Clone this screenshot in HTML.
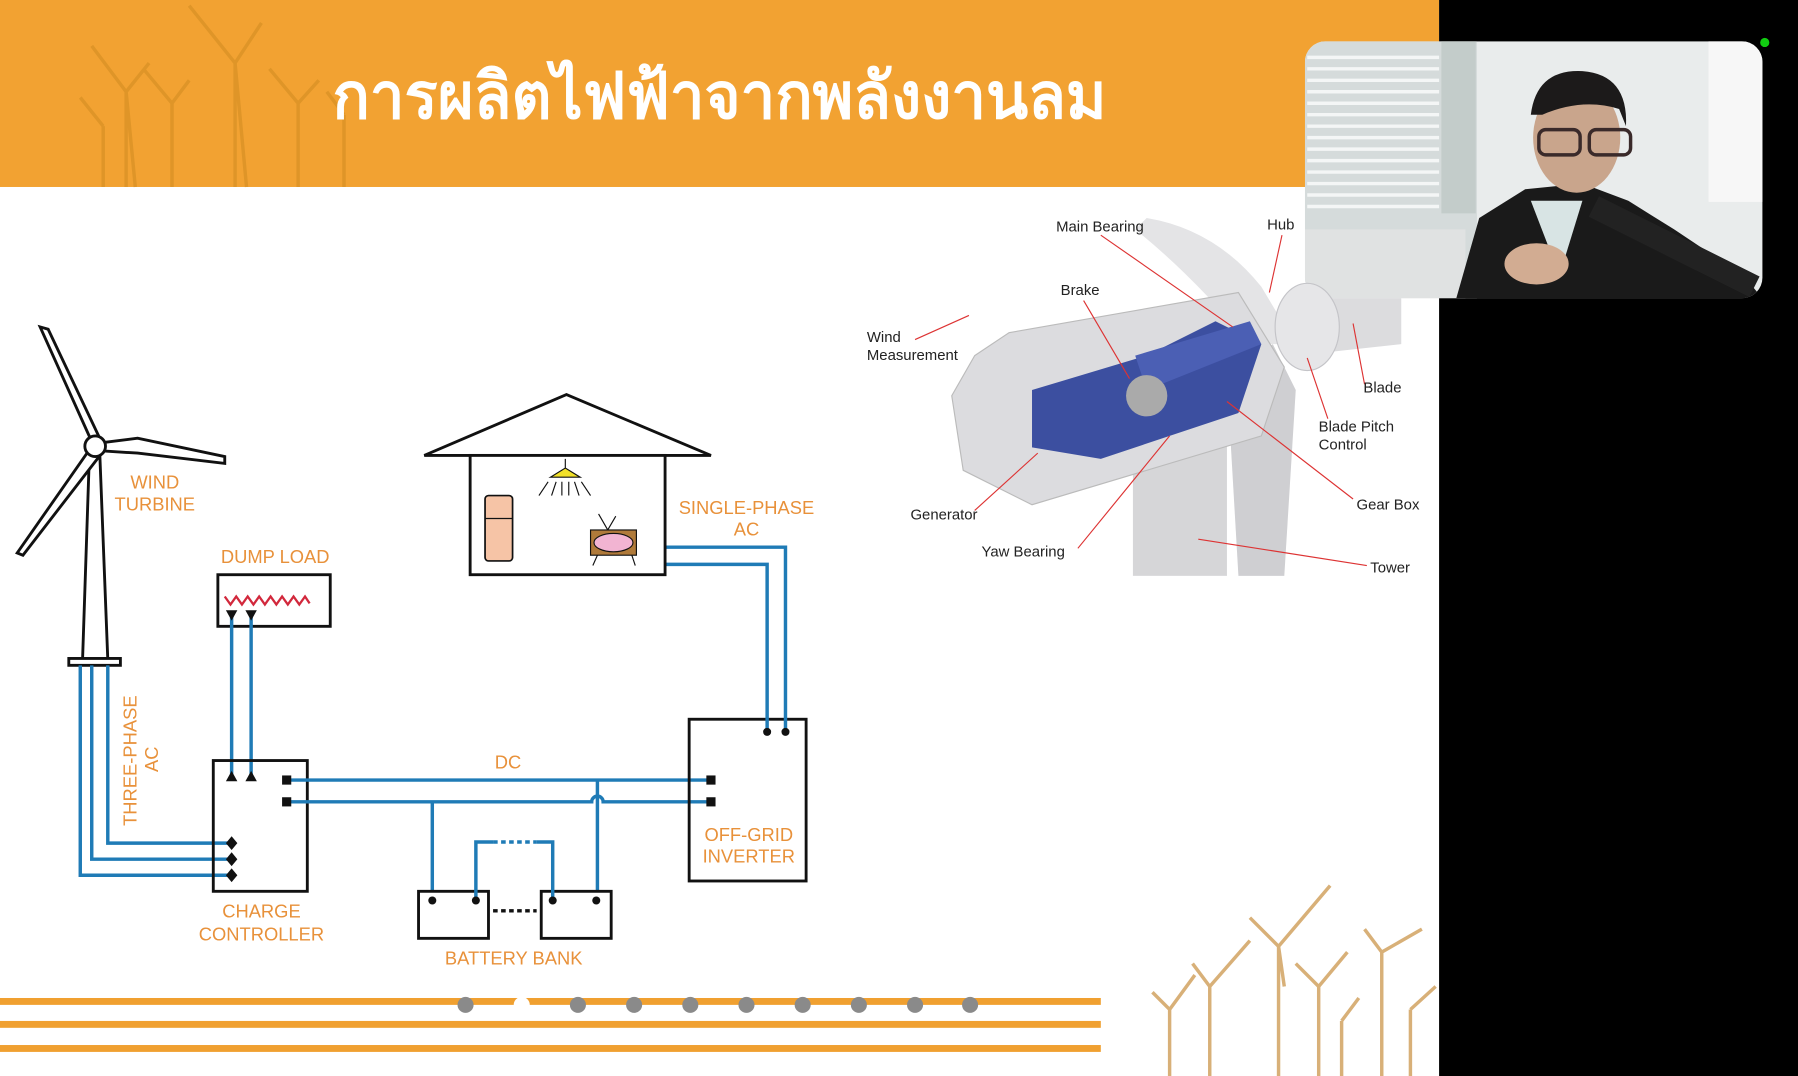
<!DOCTYPE html>
<html><head><meta charset="utf-8"><style>
html,body{margin:0;padding:0;width:1798px;height:1076px;overflow:hidden;background:#fff}
svg{display:block}
.o{fill:#e8913a;font-family:"Liberation Sans",sans-serif;font-size:16px}
.k{fill:#222;font-family:"Liberation Sans",sans-serif;font-size:13px}
.b{stroke:#1f7bb6;stroke-width:3;fill:none}
.r{stroke:#d33;stroke-width:1;fill:none}
</style></head><body>
<svg width="1798" height="1076" viewBox="0 0 1568 938" preserveAspectRatio="none">
<rect width="1568" height="938" fill="#fff"/>
<!-- header -->
<rect x="0" y="0" width="1255" height="163" fill="#f2a232"/>
<g stroke="#dd9428" stroke-width="3" fill="none" opacity="0.9">
<path d="M110 163V80M110 80L80 40M110 80L130 55M110 80L118 163"/>
<path d="M205 163V55M205 55L165 5M205 55L228 20M205 55L215 163"/>
<path d="M150 163V90M150 90L125 60M150 90L165 70"/>
<path d="M260 163V90M260 90L235 60M260 90L278 70"/>
<path d="M300 163V100M300 100L285 80"/>
<path d="M90 163V110M90 110L70 85"/>
</g>
<text x="290" y="103" textLength="675" lengthAdjust="spacingAndGlyphs" fill="#fff" font-family="'Liberation Sans',sans-serif" font-size="56" font-weight="bold">การผลิตไฟฟ้าจากพลังงานลม</text>
<!-- right black panel -->
<rect x="1255" y="0" width="313" height="938" fill="#000"/>
<!-- webcam -->
<clipPath id="cam"><rect x="1138" y="36" width="399" height="224" rx="18"/></clipPath>
<g clip-path="url(#cam)">
<rect x="1138" y="36" width="399" height="224" fill="#e9ecec"/>
<rect x="1138" y="36" width="150" height="224" fill="#d5dbdb"/>
<g stroke="#f4f6f6" stroke-width="3">
<path d="M1140 50H1255M1140 60H1255M1140 70H1255M1140 80H1255M1140 90H1255M1140 100H1255M1140 110H1255M1140 120H1255M1140 130H1255M1140 140H1255M1140 150H1255M1140 160H1255M1140 170H1255M1140 180H1255"/>
</g>
<rect x="1257" y="36" width="30" height="150" fill="#c3ccca"/>
<rect x="1490" y="36" width="47" height="140" fill="#f7f7f7"/>
<rect x="1138" y="200" width="140" height="60" fill="#e0e2e2"/>
<path d="M1270 260L1290 190L1330 165L1380 160L1420 175L1460 200L1520 240L1537 260Z" fill="#1a1a1a"/>
<path d="M1335 175L1360 240L1380 175Z" fill="#d8e4e4"/>
<ellipse cx="1375" cy="120" rx="38" ry="48" fill="#c9a58c"/>
<path d="M1335 100Q1340 60 1380 62Q1420 65 1418 110L1412 95Q1380 85 1345 100Z" fill="#1c1a1a"/>
<rect x="1342" y="113" width="36" height="22" rx="6" fill="none" stroke="#3a2a2a" stroke-width="3"/>
<rect x="1386" y="113" width="36" height="22" rx="6" fill="none" stroke="#3a2a2a" stroke-width="3"/>
<path d="M1390 180L1530 250" stroke="#222" stroke-width="20"/>
<ellipse cx="1340" cy="230" rx="28" ry="18" fill="#d2ac92"/>
</g>
<circle cx="1539" cy="37" r="4" fill="#1c1"/>
<!-- nacelle image -->
<g>
<path d="M1000 190Q1060 200 1100 250L1130 300L1090 300Q1040 240 990 200Z" fill="#e4e4e6"/>
<path d="M1120 260L1222 260L1222 300L1130 310Z" fill="#dcdcde"/>
<rect x="988" y="380" width="82" height="122" fill="#d6d6d8"/>
<path d="M1070 330L1110 300L1130 340L1120 502L1080 502Z" fill="#cfcfd2"/>
<ellipse cx="1140" cy="285" rx="28" ry="38" fill="#e6e6e8" stroke="#c4c4c8"/>
<path d="M850 310L880 290L1080 255L1120 320L1100 380L900 440L840 410L830 345Z" fill="#dcdcdf" stroke="#bbb"/>
<path d="M900 340L1000 310L1060 280L1100 300L1080 360L960 400L900 390Z" fill="#3c4fa0"/>
<path d="M990 310L1090 280L1100 300L1000 340Z" fill="#4b5fb4"/>
<circle cx="1000" cy="345" r="18" fill="#aaa"/>
</g>
<g class="r">
<path d="M960 205L1075 285M1118 205L1107 255M945 262L985 330M798 296L845 275M1190 335L1180 282M1158 365L1140 312M850 445L905 395M940 478L1020 380M1180 435L1070 350M1192 493L1045 470"/>
</g>
<text class="k" x="921" y="202">Main Bearing</text>
<text class="k" x="1105" y="200">Hub</text>
<text class="k" x="925" y="257">Brake</text>
<text class="k" x="756" y="298">Wind</text>
<text class="k" x="756" y="314">Measurement</text>
<text class="k" x="1189" y="342">Blade</text>
<text class="k" x="1150" y="376">Blade Pitch</text>
<text class="k" x="1150" y="392">Control</text>
<text class="k" x="794" y="453">Generator</text>
<text class="k" x="1183" y="444">Gear Box</text>
<text class="k" x="856" y="485">Yaw Bearing</text>
<text class="k" x="1195" y="499">Tower</text>
<!-- turbine -->
<g stroke="#111" stroke-width="2.5" fill="#fff">
<path d="M72 575L78 395L87 395L94 575Z"/>
<path d="M80 385L35 285L42 287L86 380Z"/>
<path d="M88 386L120 382L196 398L196 404L120 395L88 393Z"/>
<path d="M78 392L15 482L20 484L88 396Z"/>
<circle cx="83" cy="389" r="9"/>
<rect x="60" y="574" width="45" height="6"/>
</g>
<text class="o" x="135" y="426" text-anchor="middle">WIND</text>
<text class="o" x="135" y="445" text-anchor="middle">TURBINE</text>
<text class="o" transform="translate(119,720) rotate(-90)">THREE-PHASE</text>
<text class="o" transform="translate(138,673) rotate(-90)">AC</text>
<path class="b" d="M70 580V763H200M80 580V749H200M94 580V735H200"/>
<!-- dump load -->
<text class="o" x="240" y="491" text-anchor="middle">DUMP LOAD</text>
<rect x="190" y="501" width="98" height="45" fill="#fff" stroke="#111" stroke-width="2.5"/>
<path d="M196 520l5 7l5-7l5 7l5-7l5 7l5-7l5 7l5-7l5 7l5-7l5 7l5-7l5 7l5-7l4 6" stroke="#d2283c" stroke-width="2" fill="none"/>
<path class="b" d="M202 536V676M219 536V676"/>
<path d="M197 532h10l-5 9zM214 532h10l-5 9zM197 681h10l-5-9zM214 681h10l-5-9z" fill="#111"/>
<!-- charge controller -->
<rect x="186" y="663" width="82" height="114" fill="none" stroke="#111" stroke-width="2.5"/>
<path class="b" d="M250 680H620M250 699H516a5 5 0 0 1 10 0H620M521 680V785M377 699V785"/>
<path d="M202 729l5 6l-5 6l-5-6zM202 743l5 6l-5 6l-5-6zM202 757l5 6l-5 6l-5-6z" fill="#111"/>
<rect x="246" y="676" width="8" height="8" fill="#111"/><rect x="246" y="695" width="8" height="8" fill="#111"/>
<text class="o" x="228" y="800" text-anchor="middle">CHARGE</text>
<text class="o" x="228" y="820" text-anchor="middle">CONTROLLER</text>
<text class="o" x="443" y="670" text-anchor="middle">DC</text>
<!-- batteries -->
<rect x="365" y="777" width="61" height="41" fill="#fff" stroke="#111" stroke-width="2.5"/>
<rect x="472" y="777" width="61" height="41" fill="#fff" stroke="#111" stroke-width="2.5"/>
<path d="M430 794H468" stroke="#111" stroke-width="3" stroke-dasharray="4 3"/>
<path class="b" d="M415 785V734H430M468 734H482V785"/>
<path d="M430 734H468" stroke="#1f7bb6" stroke-width="3" stroke-dasharray="4 3"/>
<circle cx="377" cy="785" r="3.5" fill="#111"/><circle cx="415" cy="785" r="3.5" fill="#111"/><circle cx="482" cy="785" r="3.5" fill="#111"/><circle cx="520" cy="785" r="3.5" fill="#111"/>
<text class="o" x="448" y="841" text-anchor="middle">BATTERY BANK</text>
<!-- inverter -->
<rect x="601" y="627" width="102" height="141" fill="none" stroke="#111" stroke-width="2.5"/>
<rect x="616" y="676" width="8" height="8" fill="#111"/><rect x="616" y="695" width="8" height="8" fill="#111"/>
<path class="b" d="M669 638V492H580M685 638V477H580"/>
<circle cx="669" cy="638" r="3.5" fill="#111"/><circle cx="685" cy="638" r="3.5" fill="#111"/>
<text class="o" x="653" y="733" text-anchor="middle">OFF-GRID</text>
<text class="o" x="653" y="752" text-anchor="middle">INVERTER</text>
<!-- house -->
<path d="M370 397L494 344L620 397Z" fill="#fff" stroke="#111" stroke-width="2.5"/>
<rect x="410" y="397" width="170" height="104" fill="#fff" stroke="#111" stroke-width="2.5"/>
<path d="M493 400V408M480 416L493 408L506 416Z" stroke="#111" fill="#f2e12a"/>
<path d="M478 420l-8 12M485 420l-4 12M490 420v12M496 420v12M501 420l4 12M507 420l8 12" stroke="#111" stroke-width="1"/>
<rect x="423" y="432" width="24" height="57" rx="3" fill="#f6c4a6" stroke="#111" stroke-width="1.5"/>
<path d="M423 452H447" stroke="#111"/>
<path d="M530 462L522 448M530 462L537 450M521 484l-4 9M551 484l3 9" stroke="#111"/>
<rect x="515" y="462" width="40" height="22" fill="#b07a3a" stroke="#111"/>
<ellipse cx="535" cy="473" rx="17" ry="8" fill="#f2b4d2" stroke="#111"/>
<text class="o" x="651" y="448" text-anchor="middle">SINGLE-PHASE</text>
<text class="o" x="651" y="467" text-anchor="middle">AC</text>
<!-- bottom bars -->
<rect x="0" y="870" width="960" height="6" fill="#f0a030"/>
<rect x="0" y="890" width="960" height="6" fill="#f0a030"/>
<rect x="0" y="911" width="960" height="6" fill="#f0a030"/>
<g fill="#8a8a8a">
<circle cx="406" cy="876" r="7"/><circle cx="455" cy="876" r="7" fill="#fff"/><circle cx="504" cy="876" r="7"/><circle cx="553" cy="876" r="7"/><circle cx="602" cy="876" r="7"/><circle cx="651" cy="876" r="7"/><circle cx="700" cy="876" r="7"/><circle cx="749" cy="876" r="7"/><circle cx="798" cy="876" r="7"/><circle cx="846" cy="876" r="7"/>
</g>
<g stroke="#d8b078" stroke-width="3" fill="none">
<path d="M1115 938V825M1115 825L1160 772M1115 825L1090 800M1115 825L1120 860"/>
<path d="M1055 938V860M1055 860L1090 820M1055 860L1040 840"/>
<path d="M1020 938V880M1020 880L1042 850M1020 880L1005 865"/>
<path d="M1150 938V860M1150 860L1175 830M1150 860L1130 840"/>
<path d="M1205 938V830M1205 830L1240 810M1205 830L1190 810"/>
<path d="M1230 938V880M1230 880L1252 860"/>
<path d="M1170 938V890M1170 890L1185 870"/>
</g>
</svg>
</body></html>
